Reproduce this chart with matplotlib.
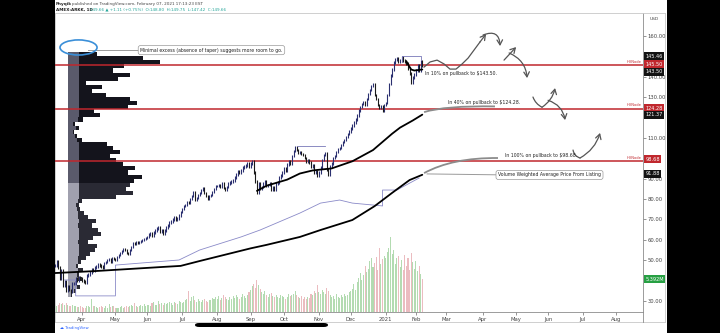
import numpy as np
import pandas as pd
import matplotlib
matplotlib.use("Agg")
import matplotlib.pyplot as plt
import matplotlib.transforms as mtransforms
from matplotlib.lines import Line2D
from matplotlib.patches import Ellipse, FancyBboxPatch, PathPatch, Rectangle
from matplotlib.path import Path

# US market holidays (so the bar index matches TradingView's time scale)
holidays = ["2020-04-10", "2020-05-25", "2020-07-03", "2020-09-07", "2020-11-26",
            "2020-12-25", "2021-01-01", "2021-01-18", "2021-02-15", "2021-04-02",
            "2021-05-31", "2021-07-05"]

# daily closes, 2020-03-09 .. 2021-02-05
close = [
    47.5, 49.5, 46.5, 41.0, 45.0, 37.5, 39.5, 35.0, 37.0, 35.5, 34.5, 38.5, 38.5, 41.0, 40.0, 41.5, 41.0,
    40.0, 39.5, 39.0, 42.5, 43.0, 44.0, 45.5, 45.0, 46.5, 47.0, 48.0, 47.5, 47.0, 46.5, 48.5, 49.0, 50.0, 50.5, 49.0, 51.0, 50.5,
    50.0, 51.5, 52.5, 53.5, 54.5, 55.5, 55.0, 53.5, 53.0, 55.0, 56.5, 58.5, 58.0, 59.0, 58.5, 59.0, 59.5, 60.0, 60.5, 61.0,
    61.5, 62.5, 63.0, 62.0, 63.5, 64.5, 65.5, 66.0, 64.0, 64.5, 63.0, 64.5, 66.0, 67.0, 68.5, 69.0, 70.0, 71.0, 70.0, 70.5, 72.0, 73.5,
    75.0, 76.5, 77.0, 78.5, 78.0, 80.0, 81.5, 83.5, 79.5, 80.5, 82.0, 83.0, 84.5, 85.5, 83.0, 81.5, 80.0, 81.5, 82.0, 83.5, 85.0, 86.5,
    86.5, 87.0, 86.0, 87.5, 85.5, 84.5, 86.0, 87.5, 88.0, 88.5, 89.0, 90.5, 92.0, 93.5, 93.0, 94.0, 95.5, 96.0, 96.5, 97.5, 96.0,
    97.5, 98.5, 93.0, 88.5, 83.0, 87.5, 85.0, 86.0, 87.5, 88.5, 86.5, 87.0, 87.5, 84.5, 86.0, 84.5, 87.5, 88.0, 90.5, 91.5, 93.0,
    95.0, 94.0, 97.0, 98.5, 97.5, 101.0, 103.5, 105.5, 104.0, 102.5, 103.0, 102.0, 101.5, 100.0, 98.5, 99.0, 98.0, 96.0, 96.5, 93.0, 93.5, 91.5,
    93.0, 95.5, 99.0, 101.5, 102.5, 94.5, 92.0, 96.0, 97.5, 100.0, 101.0, 103.0, 104.5, 105.0, 106.5, 108.0, 109.0, 110.5, 112.0, 113.0,
    114.5, 116.0, 117.5, 119.0, 121.0, 123.5, 125.0, 126.5, 127.5, 126.0, 129.0, 131.5, 133.5, 135.5, 136.5, 131.0, 129.0, 126.0, 124.5, 125.5, 123.5, 126.0,
    127.0, 131.0, 136.5, 140.5, 143.5, 147.0, 148.5, 149.0, 147.5, 148.0, 149.5, 148.0, 147.5, 146.5, 144.0, 141.5, 137.0, 139.5, 141.0,
    143.0, 145.5, 143.0, 147.5, 145.46,
]

# daily volume, millions of shares
volume = [
    1.2, 1.0, 1.1, 1.5, 1.3, 1.4, 1.2, 1.5, 1.1, 1.0, 0.9, 1.2, 1.0, 0.9, 0.8, 0.8, 0.9,
    0.8, 0.7, 0.7, 1.0, 0.9, 0.8, 2.1, 0.9, 1.0, 0.8, 0.7, 0.8, 0.9, 0.8, 0.7, 0.9, 0.7, 1.3, 0.8, 0.9, 1.0,
    0.7, 0.6, 0.7, 0.8, 0.9, 0.7, 0.8, 1.0, 0.8, 0.9, 1.1, 1.0, 1.4, 0.9, 0.8, 1.0, 1.2, 0.9, 1.3, 1.0,
    1.1, 1.2, 1.0, 1.4, 1.6, 1.2, 1.1, 1.8, 1.3, 1.5, 1.2, 1.4, 1.3, 1.5, 1.7, 1.4, 1.2, 1.6, 1.5, 1.3, 1.8, 1.6,
    1.4, 1.7, 1.9, 2.2, 3.4, 1.8, 2.4, 2.6, 2.0, 1.7, 2.1, 1.8, 1.6, 2.0, 2.2, 1.8, 1.7, 1.9, 2.0, 2.3, 2.1, 2.4,
    2.2, 2.6, 2.0, 2.3, 2.8, 2.5, 2.1, 2.0, 2.4, 2.2, 2.6, 2.3, 2.7, 2.4, 2.1, 2.5, 2.9, 2.6, 2.3, 2.8, 3.2,
    3.6, 4.2, 4.5, 4.0, 5.2, 4.4, 3.8, 3.2, 2.9, 3.4, 2.7, 2.5, 2.9, 3.1, 2.6, 2.4, 2.8, 2.5, 2.3, 2.7, 2.6,
    2.4, 2.2, 2.5, 2.9, 2.6, 2.8, 3.0, 3.4, 2.7, 2.5, 2.3, 2.6, 2.2, 2.4, 2.1, 2.5, 2.3, 3.0, 2.8, 3.4, 3.1, 4.4,
    3.3, 3.0, 3.6, 3.2, 3.0, 4.0, 3.4, 2.7, 2.4, 2.6, 2.2, 2.9, 2.5, 2.3, 2.8, 2.4, 3.0, 2.6, 2.7, 3.2,
    3.4, 3.8, 4.6, 3.6, 4.9, 5.6, 6.4, 5.2, 6.0, 7.6, 6.6, 7.1, 8.4, 8.9, 7.3, 8.0, 9.0, 6.8, 10.5, 7.8, 8.6, 9.2,
    8.8, 9.8, 10.4, 12.3, 9.5, 10.2, 7.9, 8.8, 9.1, 7.3, 8.5, 6.9, 9.4, 7.5, 8.9, 6.8, 9.6, 8.1, 7.0,
    8.3, 6.7, 7.6, 6.2, 5.392,
]

# visible-range volume profile (2-dollar rows), total and up-volume
vp_price = list(range(33, 153, 2))
vp_total = [4, 8, 12, 9, 14, 11, 15, 10, 13, 18, 22, 27, 29, 20, 25, 33, 30, 24, 28, 20,
            16, 12, 11, 14, 48, 65, 58, 62, 66, 74, 60, 67, 55, 48, 42, 52, 45, 39, 14, 9,
            6, 11, 7, 15, 32, 26, 60, 69, 62, 38, 24, 34, 18, 50, 62, 45, 56, 92, 75, 29]
vp_up = [3, 6, 9, 7, 10, 9, 10, 8, 10, 10, 11, 11, 11, 10, 11, 11, 11, 10, 11, 10,
         10, 9, 8, 10, 11, 11, 11, 11, 11, 11, 11, 11, 11, 11, 11, 11, 11, 11, 9, 7,
         5, 8, 5, 10, 11, 11, 11, 11, 11, 11, 11, 11, 11, 11, 11, 11, 11, 11, 11, 11]
vp_value_area_low = 88

# anchored VWAPs
vwap_listing_dates = ["2020-03-09", "2020-04-15", "2020-05-14", "2020-06-15", "2020-06-30",
                      "2020-07-17", "2020-09-01", "2020-09-16", "2020-10-15", "2020-11-03",
                      "2020-12-02", "2020-12-22", "2021-01-08", "2021-01-26", "2021-02-05"]
vwap_listing = [43.7, 44.7, 45.7, 46.7, 47.2, 49.6, 55.8, 57.5, 61.4, 64.8, 69.7, 76.5, 83.0, 89.3, 91.88]
vwap_sep_dates = ["2020-09-08", "2020-09-16", "2020-10-05", "2020-10-15", "2020-10-27", "2020-11-12",
                  "2020-12-02", "2020-12-21", "2021-01-08", "2021-01-15", "2021-01-28", "2021-02-05"]
vwap_sep = [84.0, 86.5, 89.5, 92.5, 94.0, 95.0, 98.5, 104.0, 112.0, 115.0, 118.5, 121.37]
vwap_jan_dates = ["2021-01-22", "2021-01-25", "2021-01-27", "2021-01-29", "2021-02-02", "2021-02-05"]
vwap_jan = [147.5, 146.0, 143.5, 143.0, 143.2, 143.5]

# thin purple step lines
stop_low_dates = ["2020-03-17", "2020-03-26", "2020-03-26", "2020-05-01", "2020-05-01", "2020-06-29",
                  "2020-07-17", "2020-08-24", "2020-09-10", "2020-10-15", "2020-11-03", "2020-11-19",
                  "2020-12-02", "2020-12-30", "2020-12-30", "2021-01-13", "2021-02-03"]
stop_low = [40.3, 40.3, 32.5, 32.5, 47.6, 50.1, 55.0, 61.4, 64.8, 73.1, 78.0, 79.5,
            78.0, 76.6, 84.4, 84.4, 90.3]
stop_high_dates = ["2020-10-13", "2020-11-06", None, "2021-01-19", "2021-01-19", "2021-02-04", "2021-02-04"]
stop_high = [106.0, 106.0, None, 147.2, 150.1, 150.1, 148.1]

hv_nodes = [145.50, 124.28, 98.68]
price_ticks = [30, 50, 60, 70, 80, 90, 110, 130, 140, 160]

W, H = 720, 333
AX_L, AX_R, AX_T, AX_B = 55, 643, 13, 312


def fx(px):
    return px / W


def fy(py):
    return 1 - py / H


def main():
    days = pd.bdate_range("2020-03-09", "2021-08-31", freq="C", holidays=holidays)

    def bar(d):
        return days.get_loc(pd.Timestamp(d))

    fig = plt.figure(figsize=(7.2, 3.33), dpi=100, facecolor="black")
    fig.add_artist(Rectangle((fx(55), 0), fx(667 - 55), 1, transform=fig.transFigure,
                             facecolor="white", edgecolor="none", zorder=-10))

    ax = fig.add_axes([fx(AX_L), fy(AX_B), fx(AX_R - AX_L), (AX_B - AX_T) / H])
    ax.patch.set_visible(False)
    ax.set_xlim(0.0, 369.8)
    ax.set_ylim(24.6, 171.2)

    # volume profile on its own x scale
    axp = ax.twiny()
    axp.set_xlim(-13, 575)
    axp.set_zorder(1)
    axv = ax.twinx()
    axv.set_ylim(0, 48.9)
    axv.set_zorder(2)
    ax.set_zorder(3)
    for a in (axp, axv):
        a.patch.set_visible(False)
        for s in a.spines.values():
            s.set_visible(False)
    axp.set_xticks([])
    axv.set_yticks([])

    va = np.array(vp_price) >= vp_value_area_low
    col_dn = np.where(va, "#14141c", "#2a2a34")
    col_up = np.where(va, "#5a5a6b", "#a0a0ae")
    axp.barh(vp_price, vp_total, height=2.0, left=0, color=col_dn, linewidth=0)
    axp.barh(vp_price, vp_up, height=2.0, left=0, color=col_up, linewidth=0)

    # volume
    c = np.array(close)
    prev = np.r_[c[0], c[:-1]]
    x = np.arange(len(c))
    up = c >= prev
    axv.bar(x, volume, width=0.65, color=np.where(up, "#b3dbb1", "#ebbcc0"), linewidth=0)

    # price bars (close-to-close strokes with a little wick)
    lo = np.minimum(prev, c) - 0.6
    hi = np.maximum(prev, c) + 0.6
    ax.vlines(x[up], lo[up], hi[up], color="#2b3070", lw=0.8, zorder=4)
    ax.vlines(x[~up], lo[~up], hi[~up], color="#1a1a1a", lw=0.8, zorder=4)

    # HVN levels
    for v in hv_nodes:
        ax.axhline(v, color="#c0272d", lw=1.1, zorder=3)
        ax.text(368.8, v + 0.6, "HVNode", ha="right", va="bottom", fontsize=2.6,
                color="#c0272d", zorder=6)

    # anchored VWAPs
    for dts, vals in ((vwap_listing_dates, vwap_listing), (vwap_sep_dates, vwap_sep),
                      (vwap_jan_dates, vwap_jan)):
        ax.plot([bar(d) for d in dts], vals, color="black", lw=1.3, zorder=5,
                solid_capstyle="round")

    ax.plot([bar(d) for d in stop_low_dates], stop_low, color="#8a8ac8", lw=0.6, zorder=4)
    sx = [bar(d) if d else np.nan for d in stop_high_dates]
    sy = [v if v else np.nan for v in stop_high]
    ax.plot(sx, sy, color="#7878b8", lw=0.6, zorder=4)

    # drawings: curved tails, callouts, hand-drawn arrows
    grey = "#555555"
    for verts in (
        [(232.1, 122.6), (245.0, 125.8), (276.7, 125.4)],
        [(232.1, 92.7), (250.0, 100.3), (278.6, 100.1)],
    ):
        ax.add_patch(PathPatch(Path(verts, [Path.MOVETO, Path.CURVE3, Path.CURVE3]),
                               fc="none", ec="#8c8c8c", lw=1.3, zorder=5))

    fs = 3.3
    ax.text(232.7, 141.3, "In 10% on pullback to $143.50.", fontsize=fs, color="#222",
            va="center", zorder=6)
    ax.text(247.2, 127.5, "In 40% on pullback to $124.28.", fontsize=fs, color="#222",
            va="center", zorder=6)
    ax.text(283.0, 101.1, "In 100% on pullback to $98.68.", fontsize=fs, color="#222",
            va="center", zorder=6)

    box = dict(boxstyle="round,pad=0.45,rounding_size=0.5", fc="white", ec="#9a9a9a", lw=0.5)
    ax.plot([234.0, 284.3], [92.3, 91.8], color="#9a9a9a", lw=0.7, zorder=5)
    ax.text(311.0, 91.8, "Volume Weighted Average Price From Listing", fontsize=fs,
            color="#222", ha="center", va="center", bbox=box, zorder=6)
    ax.plot([20.8, 62.3], [153.0, 153.0], color="#9a9a9a", lw=0.7, zorder=5)
    ax.text(98.4, 153.0, "Minimal excess (absence of taper) suggests more room to go.",
            fontsize=fs, color="#222", ha="center", va="center", bbox=box, zorder=6)
    ax.add_patch(Ellipse((14.8, 154.3), 23.3, 7.4, fc="none", ec="#3b8fd8", lw=1.2, zorder=6))

    arrow = dict(arrowstyle="->,head_length=0.35,head_width=0.2", color=grey, lw=0.9,
                 shrinkA=0, shrinkB=0)
    wave_x = [232.1, 235.9, 240.3, 244.7, 248.4, 252.2, 256.0, 259.8, 263.5, 267.3, 271.1]
    wave_y = [144.7, 147.2, 148.1, 146.2, 143.7, 143.7, 146.2, 149.1, 153.0, 157.0, 160.9]
    ax.plot(wave_x[:-1], wave_y[:-1], color=grey, lw=0.9, zorder=5)
    ax.annotate("", xy=(wave_x[-1], wave_y[-1]), xytext=(wave_x[-2], wave_y[-2]),
                arrowprops=arrow, zorder=5)
    for start, end, rad, head in (
        ((269.2, 160.4), (279.9, 155.0), -0.7, True),
        ((282.4, 148.1), (290.0, 154.5), 0.0, True),
        ((285.6, 151.6), (296.9, 139.3), -0.3, True),
        ((300.6, 130.0), (306.3, 125.0), 0.2, False),
        ((306.3, 125.0), (314.5, 134.4), 0.2, True),
        ((310.1, 128.4), (320.8, 118.7), -0.3, True),
        ((325.8, 104.0), (330.2, 100.1), 0.3, False),
        ((330.2, 100.1), (342.8, 112.4), 0.2, True),
    ):
        a = dict(arrow)
        a["connectionstyle"] = f"arc3,rad={rad}"
        if not head:
            a["arrowstyle"] = "-"
        ax.annotate("", xy=end, xytext=start, arrowprops=a, zorder=5)

    # axes styling
    for name, s in ax.spines.items():
        s.set_linewidth(0.6)
        s.set_color("#8c8c8c" if name in ("right", "bottom") else "#d0d0d0")
    ax.yaxis.tick_right()
    ax.set_yticks(price_ticks)
    ax.set_yticklabels([f"{v:.2f}" for v in price_ticks])
    month_starts = list(pd.date_range("2020-04-01", "2021-08-01", freq="MS"))
    xt = [days.searchsorted(m) for m in month_starts]
    xl = ["2021" if m.month == 1 else m.strftime("%b") for m in month_starts]
    ax.set_xticks(xt)
    ax.set_xticklabels(xl)
    ax.tick_params(labelsize=3.8, colors="#444444", length=2, width=0.4, pad=1.5)

    # price-scale labels
    trans = mtransforms.blended_transform_factory(ax.transAxes, ax.transData)
    for yv, txt, fc in ((150.1, "145.46", "#131313"), (146.0, "145.50", "#c0272d"),
                        (142.3, "143.50", "#131313"), (124.6, "124.28", "#c0272d"),
                        (121.2, "121.37", "#131313"), (99.6, "98.68", "#c0272d"),
                        (92.3, "91.88", "#131313")):
        ax.text(1.004, yv, txt, transform=trans, fontsize=3.6, color="white", ha="left",
                va="center", clip_on=False, zorder=10,
                bbox=dict(boxstyle="square,pad=0.3", fc=fc, ec="none"))
    tv = mtransforms.blended_transform_factory(ax.transAxes, axv.transData)
    axv.text(1.004, volume[-1], "5.392M", transform=tv, fontsize=3.6, color="white",
             ha="left", va="center", clip_on=False, zorder=10,
             bbox=dict(boxstyle="square,pad=0.3", fc="#27a043", ec="none"))
    fig.text(fx(650), fy(19), "USD", fontsize=3.2, color="#444444", va="center")

    # outer frame
    for xs, ys in (((55, 665), (13, 13)), ((665, 665), (13, 322)), ((55, 665), (322, 322)),
                   ((55, 55), (13, 322))):
        fig.add_artist(Line2D([fx(v) for v in xs], [fy(v) for v in ys], color="#c8c8c8",
                              lw=0.6, transform=fig.transFigure))
    fig.add_artist(Line2D([fx(643), fx(643)], [fy(312), fy(322)], color="#8c8c8c", lw=0.6,
                          transform=fig.transFigure))

    # header + footer
    fig.text(fx(56), fy(4), "Phyqik", fontsize=3.0, fontweight="bold", color="#222", va="center")
    fig.text(fx(72), fy(4), "published on TradingView.com, February 07, 2021 17:13:23 EST",
             fontsize=3.0, color="#444", va="center")
    fig.text(fx(56), fy(9.5), "AMEX:ARKK, 1D", fontsize=3.0, fontweight="bold", color="#222",
             va="center")
    fig.text(fx(90), fy(9.5), "149.66 \u25b2 +1.11 (+0.75%)  O:148.80  H:149.75  L:147.42  C:149.66",
             fontsize=3.0, color="#26a69a", va="center")
    fig.text(fx(60), fy(328), "\u2601 TradingView", fontsize=2.8, color="#2962ff", va="center")
    fig.add_artist(FancyBboxPatch((fx(195), fy(327)), fx(133), 4 / H,
                                  boxstyle="round,pad=0,rounding_size=0.006",
                                  transform=fig.transFigure, fc="black", ec="none"))

    fig.savefig("out.png", dpi=100, facecolor="black")


if __name__ == "__main__":
    main()
